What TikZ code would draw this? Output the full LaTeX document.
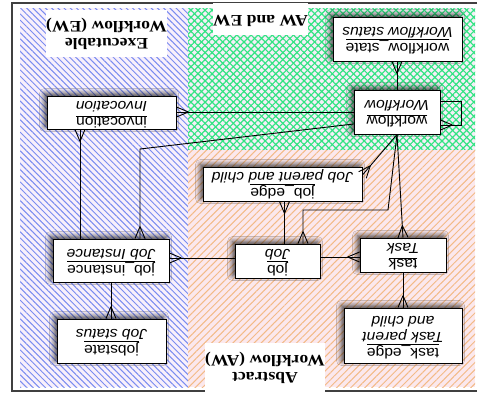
\documentclass[tikz,border=0pt]{standalone}
\usepackage{fontspec}
\usepackage{graphicx}
\usetikzlibrary{patterns.meta,shadows.blur,decorations.markings,calc}
\newfontfamily\nf[FakeStretch=1.08]{Liberation Sans}
\newfontfamily\lf[FakeStretch=1.1]{Liberation Serif}
\definecolor{ewbg}{RGB}{248,240,251}
\definecolor{awbg}{RGB}{251,232,237}
\definecolor{bothbg}{RGB}{246,238,248}
\definecolor{ewline}{RGB}{122,140,240}
\definecolor{awline}{RGB}{243,186,135}
\definecolor{bothline}{RGB}{50,228,130}
\newcommand{\bt}[1]{\rotatebox{180}{\fontsize{14.5}{16}\nf\selectfont\begin{tabular}{@{}c@{}}#1\end{tabular}}}
\newcommand{\lt}[1]{\rotatebox{180}{\lf\bfseries\fontsize{16}{17}\selectfont\begin{tabular}{@{}c@{}}#1\end{tabular}}}
\tikzset{
  box/.style={draw, fill=white, line width=0.9pt, inner sep=0pt,
    blur shadow={shadow xshift=-2.5pt, shadow yshift=2.5pt, shadow blur steps=8, shadow blur radius=5pt, shadow opacity=75}},
  lab/.style={fill=white, inner sep=0pt},
  conn/.style={line width=0.9pt},
  crowend/.style={conn, postaction={decorate, decoration={markings,
    mark=at position 1 with {\draw[line width=0.9pt] (-12pt,0pt) -- (0pt,5pt) (-12pt,0pt) -- (0pt,-5pt);}}}}
}
\begin{document}
\begin{tikzpicture}[x=1pt,y=-1pt]
\useasboundingbox (0,0) rectangle (481,392);
% regions
\fill[ewbg] (20,8) rectangle (188,387);
\fill[pattern={Lines[angle=-45,distance=4.4pt,line width=1pt]}, pattern color=ewline] (20,8) rectangle (188,387);
\fill[bothbg] (188,8) rectangle (475,150);
\fill[pattern={Lines[angle=45,distance=5pt,line width=1.2pt]}, pattern color=bothline] (188,8) rectangle (475,150);
\fill[pattern={Lines[angle=-45,distance=5pt,line width=1.2pt]}, pattern color=bothline] (188,8) rectangle (475,150);
\fill[awbg] (188,150) rectangle (475,387);
\fill[pattern={Lines[angle=45,distance=5pt,line width=1pt]}, pattern color=awline] (188,150) rectangle (475,387);
% frame
\draw[darkgray, line width=1.5pt] (477,3) -- (12,3) -- (12,391) -- (477,391);
% labels
\node[lab, minimum width=117pt, minimum height=47pt] (ewlab) at (106.5,33.5) {\lt{Executable\\Workflow (EW)}};
\node[lab, minimum width=95pt, minimum height=32pt] (bothlab) at (260.5,19) {\lt{AW and EW}};
\node[lab, minimum width=116pt, minimum height=49pt] (awlab) at (265,367.5) {\lt{Abstract\\Workflow (AW)}};
% nodes
\node[box, minimum width=129pt, minimum height=33pt] (inv) at (111.5,112.5) {\bt{\underline{invocation}\\\itshape Invocation}};
\node[box, minimum width=86pt, minimum height=44pt] (wf) at (397,112) {\bt{\underline{workflow}\\\itshape Workflow}};
\node[box, minimum width=129pt, minimum height=44pt] (wfs) at (397.5,39) {\bt{\underline{workflow\_state}\\\itshape Workflow status}};
\node[box, minimum width=159pt, minimum height=34pt] (je) at (282.5,184) {\bt{\underline{job\_edge}\\\itshape Job parent and child}};
\node[box, minimum width=85pt, minimum height=34pt] (job) at (277.5,261) {\bt{\underline{job}\\\itshape Job}};
\node[box, minimum width=86pt, minimum height=34pt] (task) at (403,255) {\bt{\underline{task}\\\itshape Task}};
\node[box, minimum width=118pt, minimum height=55pt] (te) at (403,335.5) {\bt{\underline{task\_edge}\\\itshape Task parent\\\itshape and child}};
\node[box, minimum width=116pt, minimum height=43pt] (ji) at (111,260.5) {\bt{\underline{job\_instance}\\\itshape Job Instance}};
\node[box, minimum width=109pt, minimum height=44pt] (js) at (111.5,341) {\bt{\underline{jobstate}\\\itshape Job status}};
% helper coordinates
\coordinate (jiBend) at (140,149);
\coordinate (invLeg) at ([xshift=-31pt]ji.north);
\coordinate (jobLeg) at ([xshift=25.5pt]job.north);
\coordinate (jobBend) at (388,210);
\coordinate (jeLeg) at ([xshift=7pt]job.north);
\coordinate (loopA) at ([yshift=11pt]wf.east);
\coordinate (loopB) at ([yshift=-13pt]wf.east);
% connectors
\draw[crowend] (wf.north) -- (wf.north |- wfs.south);
\draw[crowend] (loopA) -- ++(21,0) |- (loopB);
\draw[crowend] (wf.west) -- (wf.west -| inv.east);
\draw[crowend] ([yshift=-12pt]wf.west) -- (jiBend) -- (jiBend |- ji.north);
\draw[crowend] (invLeg) -- (invLeg |- inv.south);
\draw[crowend] (ji.south) -- (ji.south |- js.north);
\draw[crowend] ([yshift=3pt]job.west) -- ([yshift=3pt]job.west -| ji.east);
\draw[crowend] ([yshift=4pt]job.east) -- ([yshift=4pt]job.east -| task.west);
\draw[crowend] (task.south) -- (task.south |- te.north);
\draw[crowend] (jeLeg) -- (jeLeg |- je.south);
\draw[crowend] (wf.south) -- ([yshift=9pt]je.east);
\draw[crowend] (wf.south) -- (jobBend) -- (jobLeg |- jobBend) -- (jobLeg);
\draw[crowend] (wf.south) -- (task.north);
\end{tikzpicture}
\end{document}
